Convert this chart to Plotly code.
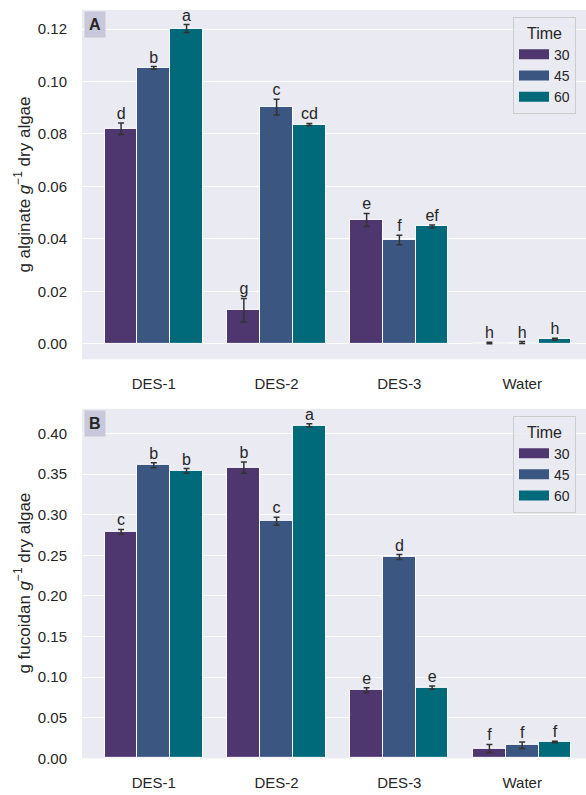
import plotly.graph_objects as go

categories = ["DES-1", "DES-2", "DES-3", "Water"]
times = ["30", "45", "60"]
colors = ["#4E366F", "#3B5680", "#006A7A"]

alg_30 = [0.0820, 0.0128, 0.0472, 0.0003]
alg_45 = [0.1052, 0.0902, 0.0396, 0.0005]
alg_60 = [0.1202, 0.0836, 0.0448, 0.0018]
alg_err_30 = [0.0022, 0.0045, 0.0025, 0.0003]
alg_err_45 = [0.0005, 0.0030, 0.0018, 0.0004]
alg_err_60 = [0.0015, 0.0004, 0.0005, 0.0003]
alg_letters_30 = ["d", "g", "e", "h"]
alg_letters_45 = ["b", "c", "f", "h"]
alg_letters_60 = ["a", "cd", "ef", "h"]

fuc_30 = [0.279, 0.358, 0.084, 0.012]
fuc_45 = [0.361, 0.292, 0.248, 0.016]
fuc_60 = [0.354, 0.410, 0.087, 0.020]
fuc_err_30 = [0.003, 0.007, 0.003, 0.005]
fuc_err_45 = [0.003, 0.005, 0.003, 0.004]
fuc_err_60 = [0.003, 0.002, 0.002, 0.001]
fuc_letters_30 = ["c", "b", "e", "f"]
fuc_letters_45 = ["b", "c", "d", "f"]
fuc_letters_60 = ["b", "a", "e", "f"]

W, H = 586, 795
FONT = "Liberation Sans, Arial, sans-serif"
TXT = "#262626"
bw = 0.8 / 3

fig = go.Figure()

def add_panel(vals, errs, letters, xa, ya, legend):
    for j in range(3):
        xs = [i + (j - 1) * bw for i in range(len(categories))]
        fig.add_trace(go.Bar(
            x=xs, y=vals[j], width=bw, name=times[j],
            marker=dict(color=colors[j], line=dict(color="white", width=1)),
            error_y=dict(type="data", array=errs[j], color="#333333", thickness=1.5, width=3),
            xaxis=xa, yaxis=ya, showlegend=False,
        ))
        fig.add_trace(go.Scatter(
            x=xs, y=[v + e for v, e in zip(vals[j], errs[j])],
            mode="text", text=letters[j], textposition="top center",
            textfont=dict(size=16, color=TXT, family=FONT),
            xaxis=xa, yaxis=ya, showlegend=False, hoverinfo="skip", cliponaxis=False,
        ))
    for j in range(3):
        fig.add_trace(go.Scatter(
            x=[None], y=[None], mode="lines", name=times[j],
            line=dict(color=colors[j], width=10),
            xaxis=xa, yaxis=ya, legend=legend, showlegend=True,
        ))

add_panel([alg_30, alg_45, alg_60], [alg_err_30, alg_err_45, alg_err_60],
          [alg_letters_30, alg_letters_45, alg_letters_60], "x", "y", "legend")
add_panel([fuc_30, fuc_45, fuc_60], [fuc_err_30, fuc_err_45, fuc_err_60],
          [fuc_letters_30, fuc_letters_45, fuc_letters_60], "x2", "y2", "legend2")

xdom = [82 / W, 1.0]
xcommon = dict(range=[-0.585, 3.52], tickvals=list(range(len(categories))), ticktext=categories,
               showgrid=False, zeroline=False, showline=False, ticks="",
               tickfont=dict(size=15, color=TXT, family=FONT), domain=xdom,
               ticklabelstandoff=14)
ycommon = dict(showgrid=True, gridcolor="white", gridwidth=1.3, zeroline=False, showline=False,
               ticks="", tickfont=dict(size=15, color=TXT, family=FONT), tickformat=".2f",
               ticklabelstandoff=14)

legend_common = dict(xanchor="left", yanchor="top",
                     bgcolor="rgba(234,234,242,0.85)", bordercolor="#CCCCCC", borderwidth=1,
                     font=dict(size=14, color=TXT, family=FONT),
                     title=dict(text="Time", side="top center",
                                font=dict(size=16, color=TXT, family=FONT)),
                     tracegroupgap=0)

fig.update_layout(
    width=W, height=H, margin=dict(l=0, r=0, t=0, b=0),
    paper_bgcolor="white", plot_bgcolor="#EAEAF2",
    font=dict(family=FONT, color=TXT),
    barmode="overlay", bargap=0,
    xaxis=dict(**xcommon, anchor="y"),
    xaxis2=dict(**xcommon, anchor="y2"),
    yaxis=dict(**ycommon, range=[-0.0059, 0.1273], dtick=0.02, tick0=0,
               domain=[1 - 363 / H, 1 - 10 / H], anchor="x"),
    yaxis2=dict(**ycommon, range=[0, 0.4305], dtick=0.05, tick0=0,
                domain=[1 - 766 / H, 1 - 413 / H], anchor="x2"),
    legend=dict(**legend_common, x=513 / W, y=1 - 17 / H),
    legend2=dict(**legend_common, x=513 / W, y=1 - 420 / H),
)

annots = [
    dict(text="g alginate <i>g</i><sup>\u22121</sup> dry algae", x=22 / W, y=1 - 186.5 / H,
         xref="paper", yref="paper", textangle=-90, showarrow=False,
         font=dict(size=17, color=TXT, family=FONT), xanchor="center", yanchor="middle"),
    dict(text="g fucoidan <i>g</i><sup>\u22121</sup> dry algae", x=22 / W, y=1 - 589.5 / H,
         xref="paper", yref="paper", textangle=-90, showarrow=False,
         font=dict(size=17, color=TXT, family=FONT), xanchor="center", yanchor="middle"),
    dict(text="<b>A</b>", x=84 / W, y=1 - 11 / H, xref="paper", yref="paper",
         xanchor="left", yanchor="top", showarrow=False, bgcolor="#C8C8DA",
         borderpad=4, font=dict(size=16, color=TXT, family=FONT)),
    dict(text="<b>B</b>", x=84 / W, y=1 - 414 / H, xref="paper", yref="paper",
         xanchor="left", yanchor="top", showarrow=False, bgcolor="#C8C8DA",
         borderpad=4, font=dict(size=16, color=TXT, family=FONT)),
]
fig.update_layout(annotations=annots)

fig.write_html("out.html", config={"displayModeBar": False},
               post_script="document.body.style.margin='0';document.body.style.overflow='hidden';")
